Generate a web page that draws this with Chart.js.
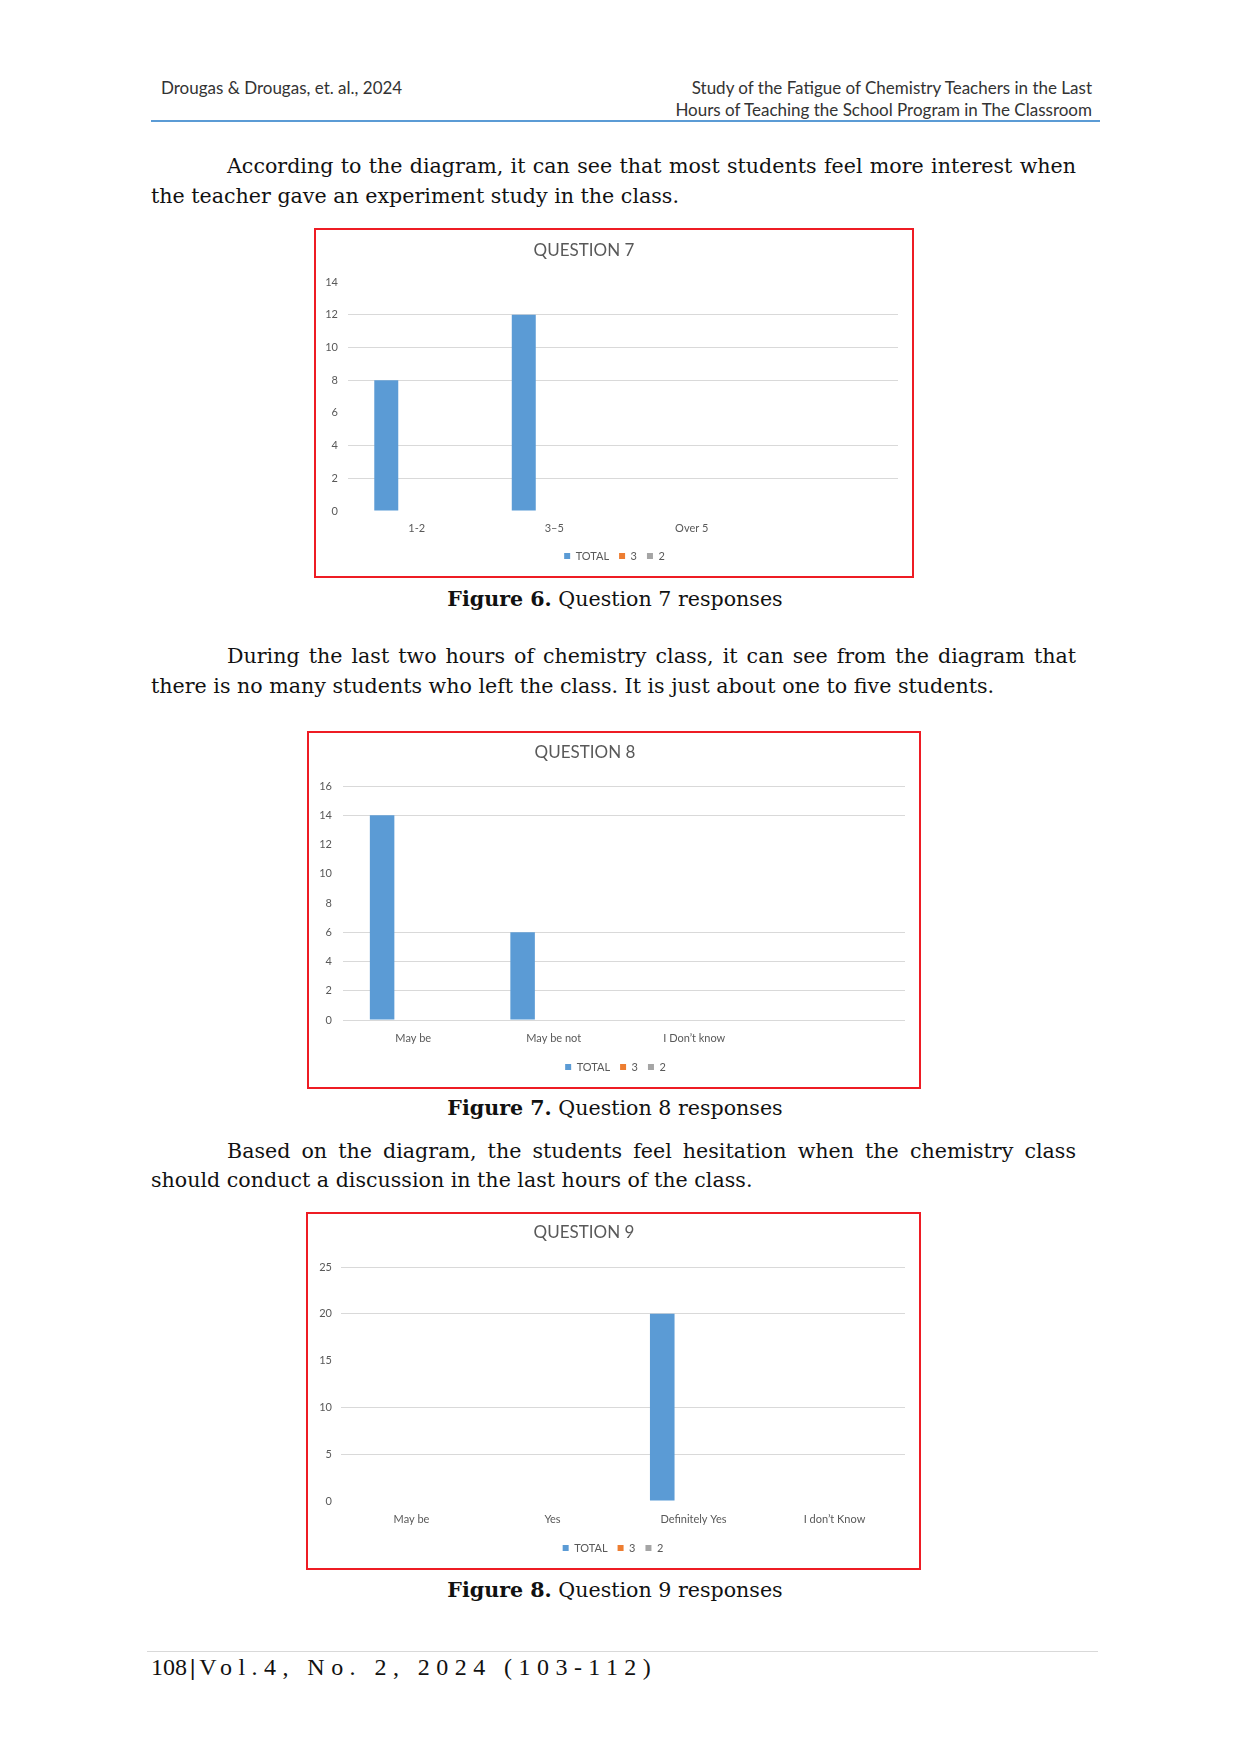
<!DOCTYPE html>
<html>
<head>
<meta charset="utf-8">
<script src="https://cdn.jsdelivr.net/npm/chart.js@4.4.1/dist/chart.umd.min.js"></script>
<style>
  html, body { margin: 0; padding: 0; background: #fff; }
  #page { position: relative; width: 1240px; height: 1754px; background: #fff; overflow: hidden; }
  .hdr { position: absolute; font-family: Lato, "Open Sans", sans-serif; font-size: 17px; line-height: 22px; color: #333; white-space: nowrap; }
  .rule { position: absolute; }
  .para { position: absolute; left: 151px; width: 925px; font-family: "DejaVu Serif", serif; font-size: 20.6px; line-height: 29.5px; color: #111; }
  .para .l1 { text-align: justify; text-align-last: justify; text-indent: 76px; white-space: nowrap; }
  .para .l2 { text-align: left; white-space: nowrap; }
  .cap { position: absolute; left: 365px; width: 500px; text-align: center; font-family: "DejaVu Serif", serif; font-size: 20.6px; line-height: 30px; color: #111; white-space: nowrap; }
  .box { position: absolute; border: 2px solid #ee1c24; background: #fff; }
  .box canvas { display: block; }
  .foot { position: absolute; left: 151px; top: 1652px; font-family: "Liberation Serif", serif; font-size: 24px; line-height: 30px; color: #111; white-space: nowrap; }
  .foot .bar { padding: 0 4px 0 3px; }
  .foot .sp { letter-spacing: 6.45px; }
</style>
</head>
<body>
<div id="page">
  <div class="hdr" style="left:161px; top:77px;">Drougas &amp; Drougas, et. al., 2024</div>
  <div class="hdr" style="right:148px; top:77px; text-align:right;">Study of the Fatigue of Chemistry Teachers in the Last<br>Hours of Teaching the School Program in The Classroom</div>
  <div class="rule" style="left:151px; top:119.5px; width:949px; height:2.5px; background:#5b9bd5;"></div>

  <div class="para" style="top:152px;">
    <div class="l1">According to the diagram, it can see that most students feel more interest when</div>
    <div class="l2">the teacher gave an experiment study in the class.</div>
  </div>

  <div class="box" style="left:314px; top:228px; width:596px; height:346px;"><canvas id="c7" width="596" height="346"></canvas></div>
  <div class="cap" style="top:584px;"><b>Figure 6.</b> Question 7 responses</div>

  <div class="para" style="top:642px;">
    <div class="l1">During the last two hours of chemistry class, it can see from the diagram that</div>
    <div class="l2">there is no many students who left the class. It is just about one to five students.</div>
  </div>

  <div class="box" style="left:307px; top:731px; width:610px; height:354px;"><canvas id="c8" width="610" height="354"></canvas></div>
  <div class="cap" style="top:1093px;"><b>Figure 7.</b> Question 8 responses</div>

  <div class="para" style="top:1136.5px;">
    <div class="l1">Based on the diagram, the students feel hesitation when the chemistry class</div>
    <div class="l2">should conduct a discussion in the last hours of the class.</div>
  </div>

  <div class="box" style="left:306px; top:1212px; width:611px; height:354px;"><canvas id="c9" width="611" height="354"></canvas></div>
  <div class="cap" style="top:1575px;"><b>Figure 8.</b> Question 9 responses</div>

  <div class="rule" style="left:147px; top:1651px; width:951px; height:1px; background:#d9d9d9;"></div>
  <div class="foot">108<b class="bar">|</b><span class="sp">Vol.4, No. 2, 2024 (103-112)</span></div>
</div>

<script>
// ---------- DATA ----------
const seriesNames = ['TOTAL', '3', '2'];

const q7Title = 'QUESTION 7';
const q7Categories = ['1-2', '3\u20135', 'Over 5', ''];
const q7Total = [8, 12, 0, 0];
const q7Series3 = [0, 0, 0, 0];
const q7Series2 = [0, 0, 0, 0];
const q7YMax = 14;
const q7YStep = 2;

const q8Title = 'QUESTION 8';
const q8Categories = ['May be', 'May be not', 'I Don\u2019t know', ''];
const q8Total = [14, 6, 0, 0];
const q8Series3 = [0, 0, 0, 0];
const q8Series2 = [0, 0, 0, 0];
const q8YMax = 16;
const q8YStep = 2;

const q9Title = 'QUESTION 9';
const q9Categories = ['May be', 'Yes', 'Definitely Yes', 'I don\u2019t Know'];
const q9Total = [0, 0, 20, 0];
const q9Series3 = [0, 0, 0, 0];
const q9Series2 = [0, 0, 0, 0];
const q9YMax = 25;
const q9YStep = 5;

// ---------- STYLE / LAYOUT ----------
const seriesColors = ['#5b9bd5', '#ed7d31', '#a5a5a5'];
const FONT = 'Lato, "Open Sans", sans-serif';
const TEXT = '#595959';
const GRID = '#d9d9d9';

function makeChart(id, title, categories, series, yMax, yStep, L) {
  const canvas = document.getElementById(id);
  const W = canvas.width, H = canvas.height;
  const tickFont = 11, lineH = tickFont * 1.2;
  const legendFont = 11, legendPad = 10, itemH = Math.max(legendFont, 6);
  const legendTop = L.legendY - legendPad - itemH / 2;
  const legendH = itemH + legendPad + 10;

  const titlePlugin = {
    id: 'offsetTitle',
    afterLayout(chart) {
      const lg = chart.legend;
      if (lg) {
        const left = L.legendX - legendPad / 2 - W / 2;
        lg.left = left;
        lg.right = left + W;
        lg.width = W;
      }
    },
    afterDraw(chart) {
      const c = chart.ctx;
      c.save();
      c.font = '17px ' + FONT;
      c.fillStyle = TEXT;
      c.textAlign = 'center';
      c.textBaseline = 'middle';
      c.fillText(title, L.titleX, L.titleY);
      c.restore();
    }
  };

  return new Chart(canvas, {
    type: 'bar',
    data: {
      labels: categories,
      datasets: series.map((d, i) => ({
        label: seriesNames[i],
        data: d,
        backgroundColor: seriesColors[i],
        borderWidth: 0,
        categoryPercentage: 0.665,
        barPercentage: 0.787
      }))
    },
    options: {
      responsive: false,
      animation: false,
      devicePixelRatio: 1,
      layout: { padding: { top: L.plotTop, right: W - L.plotRight, left: 0, bottom: H - legendTop - legendH } },
      plugins: {
        title: { display: false },
        tooltip: { enabled: false },
        legend: {
          position: 'bottom',
          align: 'center',
          labels: {
            boxWidth: 6, boxHeight: 6, padding: legendPad,
            color: TEXT, font: { family: FONT, size: legendFont }
          }
        }
      },
      scales: {
        x: {
          grid: { display: false, drawTicks: false },
          border: { display: false },
          ticks: { color: TEXT, font: { family: FONT, size: tickFont }, padding: L.labelY - L.plotBottom - lineH / 2, maxRotation: 0, autoSkip: false },
          afterFit(s) { s.height = legendTop - L.plotBottom; }
        },
        y: {
          min: 0, max: yMax,
          grid: {
            drawTicks: false,
            lineWidth: 1,
            color: (ctx) => (L.hiddenGrid.indexOf(ctx.tick ? ctx.tick.value : -1) >= 0 ? 'rgba(0,0,0,0)' : GRID)
          },
          border: { display: false },
          ticks: { stepSize: yStep, color: TEXT, font: { family: FONT, size: tickFont }, padding: L.plotLeft - L.yLabelRight },
          afterFit(s) { s.width = L.plotLeft; }
        }
      }
    },
    plugins: [titlePlugin]
  });
}

makeChart('c7', q7Title, q7Categories, [q7Total, q7Series3, q7Series2], q7YMax, q7YStep,
  { plotLeft: 32, plotRight: 582, plotTop: 52, plotBottom: 281, yLabelRight: 22, labelY: 298, legendY: 326, legendX: 303.5, titleX: 268, titleY: 21, hiddenGrid: [0, 6, 14] });

makeChart('c8', q8Title, q8Categories, [q8Total, q8Series3, q8Series2], q8YMax, q8YStep,
  { plotLeft: 34, plotRight: 596, plotTop: 53, plotBottom: 287, yLabelRight: 23, labelY: 305, legendY: 334, legendX: 311.5, titleX: 276, titleY: 20, hiddenGrid: [8, 10, 12] });

makeChart('c9', q9Title, q9Categories, [q9Total, q9Series3, q9Series2], q9YMax, q9YStep,
  { plotLeft: 33, plotRight: 597, plotTop: 53, plotBottom: 287, yLabelRight: 24, labelY: 305, legendY: 334, legendX: 310, titleX: 276, titleY: 19, hiddenGrid: [0, 15] });
</script>
</body>
</html>
